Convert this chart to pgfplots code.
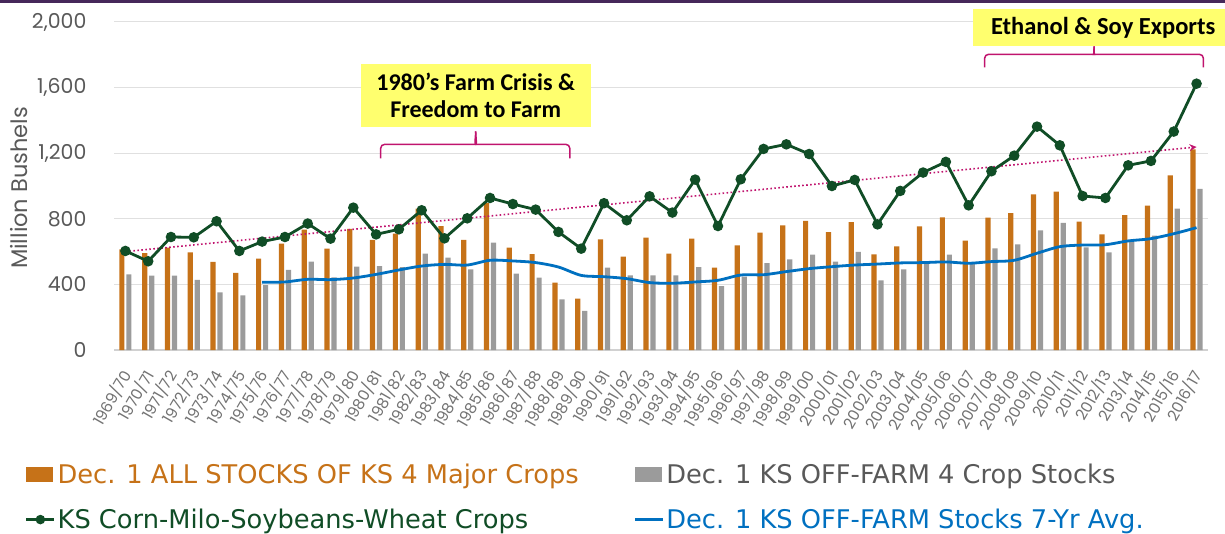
\documentclass[border=0pt]{standalone}
\usepackage{pgfplots}
\pgfplotsset{compat=1.18}
\usetikzlibrary{arrows.meta}
\usepackage{fontspec}
\setmainfont{Carlito}
\newfontfamily\pop{Poppins}
\newfontfamily\leg{DejaVu Sans}
\definecolor{cOrange}{RGB}{198,114,24}
\definecolor{cGray}{RGB}{155,155,155}
\definecolor{cGreen}{RGB}{16,77,38}
\definecolor{cBlue}{RGB}{0,112,192}
\definecolor{cPink}{RGB}{192,20,110}
\definecolor{cYellow}{RGB}{255,255,110}
\definecolor{cTick}{RGB}{89,89,89}
\definecolor{cLegGray}{RGB}{89,89,89}
\definecolor{cBand}{RGB}{70,40,90}
\begin{document}
\begin{tikzpicture}[x=1pt,y=1pt]
\useasboundingbox (0,0) rectangle (1225,533);
\fill[cBand] (0,530) rectangle (1225,533);
\begin{axis}[
  at={(114pt,183pt)}, anchor=south west, scale only axis,
  width=1094pt, height=328pt,
  xmin=-0.5, xmax=47.5, ymin=0, ymax=2000,
  clip=false,
  axis line style={draw=none},
  major tick length=0pt,
  ymajorgrids, grid style={color=black!12, line width=1pt},
  ytick={0,400,800,1200,1600,2000},
  /pgf/number format/assume math mode=true,
  /pgf/number format/1000 sep={,},
  yticklabel style={font=\pop\fontsize{20.5}{20.5}\selectfont, text=cTick, anchor=east, xshift=-24pt},
  xtick={0,...,47},
  xticklabels={1969/70,1970/71,1971/72,1972/73,1973/74,1974/75,1975/76,1976/77,1977/78,1978/79,1979/80,1980/81,1981/82,1982/83,1983/84,1984/85,1985/86,1986/87,1987/88,1988/89,1989/90,1990/91,1991/92,1992/93,1993/94,1994/95,1995/96,1996/97,1997/98,1998/99,1999/00,2000/01,2001/02,2002/03,2003/04,2004/05,2005/06,2006/07,2007/08,2008/09,2009/10,2010/11,2011/12,2012/13,2013/14,2014/15,2015/16,2016/17},
  xticklabel style={xshift=2pt, yshift=-21pt, rotate=60, anchor=east, font=\pop\fontsize{15.5}{15.5}\selectfont, text=black!55, inner sep=1pt},
  legend columns=2,
  legend cell align=left,
  legend style={at={(-0.0814,-0.341)}, anchor=north west, draw=none, fill=none, inner sep=0pt,
     font=\leg\fontsize{25.7}{25.7}\selectfont, row sep=20pt,
     nodes={inner sep=2pt},
     /tikz/every even column/.style={column sep=53pt}},
]
\draw[black!18, line width=1.6pt] (axis cs:-0.5,0) -- (axis cs:47.5,0);
\addplot[ybar, bar width=5.2pt, bar shift=-3.5pt, fill=cOrange, draw=none,
  legend image code/.code={\fill[cOrange] (0pt,-7.5pt) rectangle (27pt,7.5pt);}]
  coordinates {(0,614)(1,590)(2,624)(3,596)(4,537)(5,470)(6,557)(7,649)(8,734)(9,618)
  (10,738)(11,671)(12,710)(13,862)(14,756)(15,671)(16,895)(17,624)(18,585)(19,411)
  (20,313)(21,675)(22,569)(23,685)(24,588)(25,679)(26,502)(27,638)(28,716)(29,760)
  (30,787)(31,718)(32,779)(33,583)(34,632)(35,754)(36,809)(37,667)(38,807)(39,834)
  (40,949)(41,966)(42,783)(43,705)(44,823)(45,880)(46,1065)(47,1224)};
\addlegendentry{\textcolor{cOrange}{Dec. 1 ALL STOCKS OF KS 4 Major Crops}}
\addplot[ybar, bar width=5.2pt, bar shift=3.5pt, fill=cGray, draw=none,
  legend image code/.code={\fill[cGray] (0pt,-7.5pt) rectangle (27pt,7.5pt);}]
  coordinates {(0,461)(1,453)(2,453)(3,427)(4,352)(5,333)(6,396)(7,488)(8,539)(9,443)
  (10,508)(11,512)(12,506)(13,588)(14,563)(15,492)(16,655)(17,466)(18,441)(19,309)
  (20,238)(21,502)(22,455)(23,455)(24,455)(25,506)(26,390)(27,447)(28,529)(29,553)
  (30,581)(31,539)(32,598)(33,425)(34,492)(35,533)(36,581)(37,527)(38,620)(39,644)
  (40,730)(41,775)(42,626)(43,596)(44,663)(45,697)(46,862)(47,982)};
\addlegendentry{\textcolor{cLegGray}{Dec. 1 KS OFF-FARM 4 Crop Stocks}}
\addplot[cPink, line width=1.6pt, dash pattern=on 1.6pt off 2.4pt, -{Stealth[length=7pt,width=7pt,open]}, forget plot]
  coordinates {(0,600)(47,1238)};
\addplot[cGreen, line width=2.8pt, mark=*, mark size=3.8pt, mark options={fill=cGreen, solid},
  legend image code/.code={\draw[cGreen, line width=2.5pt] (0pt,0pt) -- (28pt,0pt); \fill[cGreen] (14pt,0pt) circle (3.3pt);}]
  coordinates {(0,604)(1,541)(2,689)(3,687)(4,785)(5,604)(6,661)(7,689)(8,771)(9,679)
  (10,868)(11,705)(12,736)(13,852)(14,681)(15,803)(16,927)(17,890)(18,856)(19,720)
  (20,618)(21,895)(22,791)(23,937)(24,838)(25,1039)(26,756)(27,1041)(28,1226)(29,1254)
  (30,1195)(31,1000)(32,1037)(33,766)(34,970)(35,1082)(36,1147)(37,882)(38,1090)(39,1185)
  (40,1362)(41,1248)(42,939)(43,927)(44,1126)(45,1153)(46,1332)(47,1624)};
\addlegendentry{\textcolor{cGreen}{KS Corn-Milo-Soybeans-Wheat Crops}}
\addplot[cBlue, line width=2.8pt, smooth,
  legend image code/.code={\draw[cBlue, line width=2.5pt] (0pt,0pt) -- (28pt,0pt);}]
  coordinates {(6,413)(7,415)(8,431)(9,429)(10,439)(11,461)(12,488)(13,512)(14,522)(15,518)
  (16,547)(17,543)(18,533)(19,506)(20,455)(21,447)(22,435)(23,411)(24,407)(25,415)
  (26,425)(27,457)(28,459)(29,478)(30,496)(31,508)(32,518)(33,524)(34,531)(35,533)
  (36,537)(37,529)(38,539)(39,547)(40,590)(41,630)(42,640)(43,642)(44,665)(45,679)
  (46,709)(47,746)};
\addlegendentry{\textcolor{cBlue}{Dec. 1 KS OFF-FARM Stocks 7-Yr Avg.}}
% braces
\draw[cPink, line width=1.5pt, rounded corners=4pt]
  (axis cs:11.2,1169) |- (axis cs:15.2,1254) to[out=0,in=-90] (axis cs:15.37,1333);
\draw[cPink, line width=1.5pt, rounded corners=4pt]
  (axis cs:19.5,1169) |- (axis cs:15.54,1254) to[out=180,in=-90] (axis cs:15.37,1333);
\draw[cPink, line width=1.5pt, rounded corners=4pt]
  (axis cs:37.7,1724) |- (axis cs:42.35,1803) to[out=0,in=-90] (axis cs:42.5,1852);
\draw[cPink, line width=1.5pt, rounded corners=4pt]
  (axis cs:47.3,1724) |- (axis cs:42.65,1803) to[out=180,in=-90] (axis cs:42.5,1852);
\node[fill=cYellow, minimum width=230pt, minimum height=63pt, inner sep=0pt, align=center,
  font=\bfseries\fontsize{24}{27}\selectfont] at (axis cs:15.37,1550) {1980’s Farm Crisis \&\\Freedom to Farm};
\node[fill=cYellow, minimum width=262pt, minimum height=37pt, inner sep=0pt, anchor=west,
  font=\bfseries\fontsize{24.5}{26}\selectfont] at (axis cs:37.19,1965) {\hspace{-2pt}Ethanol \& Soy Exports\hspace{34pt}};
\end{axis}
\node[rotate=90, font=\pop\fontsize{22.5}{22.5}\selectfont, text=cTick] at (19,345) {Million Bushels};
\end{tikzpicture}
\end{document}
